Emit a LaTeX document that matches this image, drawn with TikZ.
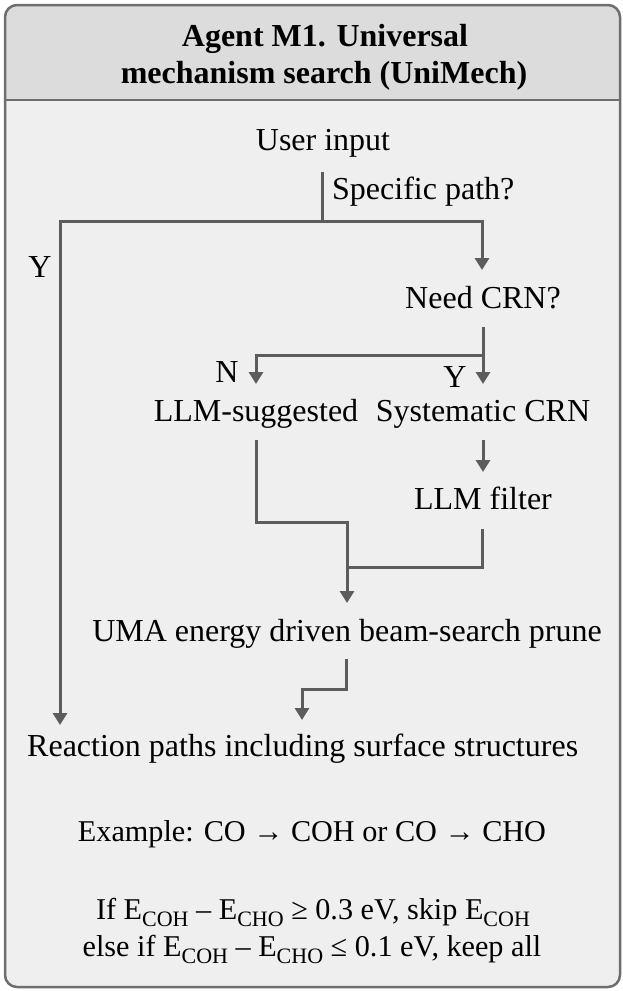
\documentclass[tikz,border=0pt]{standalone}
\usepackage{fontspec}
\setmainfont{Liberation Serif}
\usetikzlibrary{arrows.meta}
\definecolor{frame}{HTML}{6E6E6E}
\definecolor{headfill}{HTML}{DCDCDC}
\definecolor{bodyfill}{HTML}{EFEFEF}
\definecolor{wire}{HTML}{5C5C5C}
% lowered, smaller index text for energies
\newcommand{\lowidx}[1]{\raisebox{-7pt}{\fontsize{22}{22}\selectfont #1}}
\begin{document}
\begin{tikzpicture}[x=1pt,y=-1pt,
  txt/.style={font=\fontsize{32}{38}\selectfont, inner sep=0pt, anchor=base},
  note/.style={txt, font=\fontsize{30.2}{36}\selectfont},
  ttl/.style={txt, font=\fontsize{32}{38}\selectfont\bfseries},
  link/.style={draw=wire, line width=3pt},
  flow/.style={link, -{Triangle[width=14pt,length=12pt]}}]
\useasboundingbox (0,0) rectangle (622,991);

% panel with grey header band
\fill[bodyfill, rounded corners=12pt] (5,5) rectangle (620,987);
\begin{scope}
  \clip[rounded corners=12pt] (5,5) rectangle (620,987);
  \fill[headfill] (5,5) rectangle (620,100);
\end{scope}
\draw[frame, line width=2.5pt, rounded corners=12pt] (5,5) rectangle (620,987);
\draw[frame, line width=2.5pt] (5,100) -- (620,100);

% title
\node[ttl] (title1) at (325,46) {Agent M1. Universal};
\node[ttl] (title2) at (324,83) {mechanism search (UniMech)};

% flow texts
\node[txt] (user) at (323,150) {User input};
\node[txt, anchor=base west] (spec) at (332,199) {Specific path?};
\node[txt] (yes1) at (40,277) {Y};
\node[txt] (need) at (483,308) {Need CRN?};
\node[txt] (no2) at (227,382) {N};
\node[txt] (yes2) at (455,387) {Y};
\node[txt] (llm) at (256,421) {LLM-suggested};
\node[txt] (sys) at (483,421) {Systematic CRN};
\node[txt] (filter) at (483,509) {LLM filter};
\node[txt] (uma) at (347,641) {UMA energy driven beam-search prune};
\node[txt, anchor=base west] (paths) at (27,756) {Reaction paths including surface structures};
\node[note] (example) at (312,841) {Example: CO → COH or CO → CHO};
\node[note] (rule1) at (313,919) {If E\lowidx{COH} – E\lowidx{CHO} ≥ 0.3 eV, skip E\lowidx{COH}};
\node[note] (rule2) at (312,956) {else if E\lowidx{COH} – E\lowidx{CHO} ≤ 0.1 eV, keep all};

% connector ends and junctions
\coordinate (u1) at (322,172);
\coordinate (j1) at (322,221);
\coordinate (a1) at (482,270);
\coordinate (a2) at (60,725);
\coordinate (n1) at (483,327);
\coordinate (j2) at (483,355);
\coordinate (a3) at (483,384);
\coordinate (a4) at (256,384);
\coordinate (s1) at (483,440);
\coordinate (a5) at (483,472);
\coordinate (l1) at (256,440);
\coordinate (j3) at (347,522);
\coordinate (a6) at (347,603);
\coordinate (f1) at (482,529);
\coordinate (j4) at (347,567);
\coordinate (m1) at (346,659);
\coordinate (j5) at (302,689);
\coordinate (a7) at (302,720);

% connectors
\draw[link] (u1) -- (j1);
\draw[flow] (j1) -| (a1);
\draw[flow] (j1) -| (a2);
\draw[flow] (n1) -- (a3);
\draw[flow] (j2) -| (a4);
\draw[flow] (s1) -- (a5);
\draw[flow] (l1) |- (j3) -- (a6);
\draw[link] (f1) |- (j4);
\draw[flow] (m1) |- (j5) -- (a7);
\end{tikzpicture}
\end{document}
